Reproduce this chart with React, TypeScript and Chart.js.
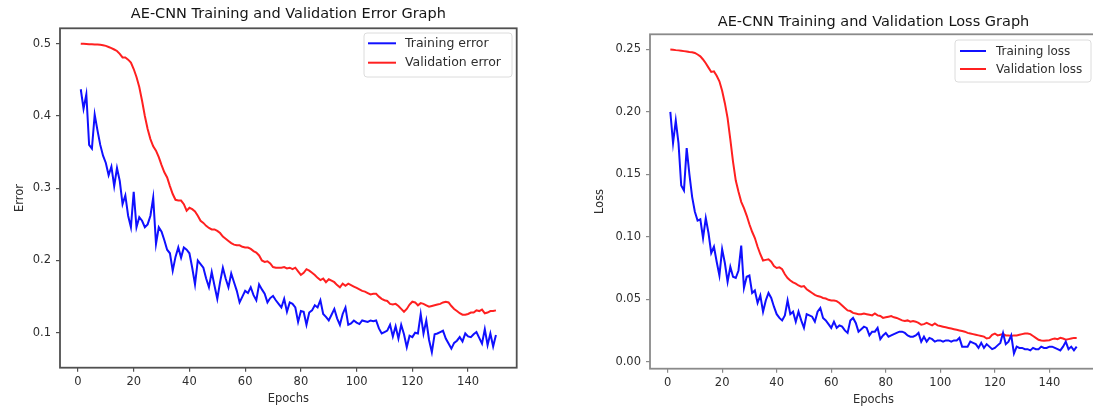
import React, { useEffect, useRef } from "react";
import { Chart, registerables } from "chart.js";

Chart.register(...registerables);

// ---------------- data ----------------
const trainError = [
  0.437, 0.41, 0.43, 0.36, 0.355, 0.402, 0.38, 0.36, 0.345, 0.335,
  0.318, 0.33, 0.303, 0.328, 0.31, 0.278, 0.29, 0.262, 0.246, 0.295,
  0.246, 0.26, 0.255, 0.246, 0.25, 0.262, 0.287, 0.223, 0.246, 0.24,
  0.228, 0.215, 0.21, 0.186, 0.205, 0.218, 0.204, 0.218, 0.215, 0.21,
  0.19, 0.167, 0.2, 0.195, 0.19, 0.175, 0.163, 0.184, 0.165, 0.147,
  0.17, 0.19, 0.175, 0.163, 0.182, 0.17, 0.158, 0.142, 0.15, 0.158,
  0.155, 0.163, 0.152, 0.145, 0.167, 0.16, 0.154, 0.142, 0.148, 0.151,
  0.145, 0.14, 0.135, 0.147, 0.129, 0.142, 0.14, 0.135, 0.115, 0.13,
  0.129, 0.111, 0.128, 0.131, 0.138, 0.135, 0.145, 0.126, 0.122, 0.117,
  0.125, 0.133, 0.12, 0.111, 0.126, 0.135, 0.111, 0.113, 0.117, 0.114,
  0.112, 0.117, 0.116, 0.115, 0.117, 0.116, 0.117, 0.106, 0.099, 0.101,
  0.103, 0.111, 0.095, 0.109, 0.092, 0.111, 0.098, 0.08, 0.096, 0.094,
  0.1, 0.099, 0.126, 0.099, 0.117, 0.09, 0.073, 0.098, 0.099, 0.101,
  0.103, 0.092, 0.085, 0.078, 0.086, 0.089, 0.094, 0.088, 0.099, 0.095,
  0.094, 0.098, 0.101, 0.093, 0.085, 0.105, 0.083, 0.099, 0.081, 0.097,
];

const valError = [
  0.5, 0.4998, 0.4996, 0.4994, 0.4992, 0.499, 0.4988, 0.4985, 0.498, 0.497,
  0.4955, 0.494, 0.492, 0.49, 0.486, 0.481, 0.481, 0.478, 0.474, 0.465,
  0.454, 0.44, 0.421, 0.4, 0.382, 0.368, 0.358, 0.352, 0.343, 0.332,
  0.322, 0.315, 0.303, 0.292, 0.284, 0.283, 0.283, 0.278, 0.269, 0.273,
  0.271, 0.268, 0.262, 0.255, 0.252, 0.248, 0.245, 0.243, 0.243, 0.241,
  0.238, 0.233, 0.23, 0.227, 0.224, 0.222, 0.221, 0.221, 0.219, 0.218,
  0.218, 0.216, 0.213, 0.211, 0.207, 0.2, 0.198, 0.199, 0.196, 0.191,
  0.19, 0.19, 0.19, 0.191, 0.189, 0.19, 0.188, 0.19, 0.185, 0.18,
  0.183, 0.188, 0.186, 0.183, 0.18, 0.176, 0.173, 0.175, 0.17, 0.174,
  0.172, 0.17, 0.166, 0.163, 0.168, 0.165, 0.168, 0.166, 0.164, 0.162,
  0.16, 0.158, 0.157, 0.155, 0.153, 0.154, 0.154, 0.15, 0.147, 0.145,
  0.144, 0.14, 0.139, 0.14, 0.137, 0.133, 0.129, 0.133, 0.139, 0.143,
  0.142, 0.138, 0.141, 0.14, 0.138, 0.136, 0.137, 0.138, 0.139, 0.14,
  0.142, 0.143, 0.142, 0.137, 0.133, 0.13, 0.127, 0.125, 0.125, 0.126,
  0.128, 0.128, 0.131, 0.13, 0.132, 0.127, 0.128, 0.13, 0.13, 0.131,
];

const trainLoss = [
  0.2, 0.175, 0.193, 0.175, 0.141, 0.137, 0.171, 0.15, 0.132, 0.12,
  0.113, 0.114, 0.099, 0.115, 0.103, 0.087, 0.092, 0.08, 0.069, 0.09,
  0.079, 0.064, 0.076, 0.068, 0.067, 0.073, 0.093, 0.059, 0.068, 0.069,
  0.055, 0.057, 0.047, 0.053, 0.04, 0.049, 0.055, 0.051, 0.044, 0.038,
  0.035, 0.033, 0.037, 0.049, 0.038, 0.04, 0.032, 0.04, 0.033, 0.027,
  0.038, 0.037, 0.036, 0.032, 0.04, 0.043, 0.035, 0.033, 0.03, 0.027,
  0.032, 0.027, 0.029, 0.028, 0.025, 0.023, 0.033, 0.035, 0.031, 0.024,
  0.026, 0.028, 0.027, 0.021, 0.024, 0.024, 0.027, 0.018, 0.021, 0.023,
  0.02, 0.021, 0.022, 0.023, 0.024, 0.024, 0.023, 0.021, 0.02, 0.02,
  0.021, 0.023, 0.016, 0.02, 0.016, 0.019, 0.018, 0.016, 0.017, 0.017,
  0.016, 0.017, 0.017, 0.016, 0.017, 0.017, 0.019, 0.012, 0.012, 0.012,
  0.016, 0.015, 0.014, 0.011, 0.015, 0.011, 0.014, 0.012, 0.01, 0.011,
  0.013, 0.015, 0.023, 0.014, 0.016, 0.021, 0.0065, 0.012, 0.011, 0.011,
  0.01, 0.01, 0.009, 0.011, 0.01, 0.01, 0.012, 0.011, 0.011, 0.012,
  0.012, 0.011, 0.01, 0.009, 0.012, 0.016, 0.01, 0.012, 0.009, 0.012,
];

const valLoss = [
  0.25, 0.2498, 0.2495, 0.2493, 0.249, 0.2487, 0.2484, 0.248, 0.2478, 0.2472,
  0.246, 0.2445, 0.242, 0.239, 0.2355, 0.232, 0.2325, 0.229, 0.2245, 0.217,
  0.207, 0.195, 0.178, 0.16, 0.145, 0.136, 0.128, 0.123, 0.117, 0.11,
  0.104, 0.099, 0.092, 0.086, 0.081, 0.0815, 0.082, 0.08, 0.0765, 0.075,
  0.0755, 0.074, 0.07, 0.067, 0.065, 0.0635, 0.0625, 0.061, 0.06, 0.0605,
  0.058, 0.0565, 0.055, 0.0535, 0.0525, 0.052, 0.051, 0.0505, 0.0495, 0.049,
  0.049, 0.0485, 0.047, 0.045, 0.043, 0.041, 0.0405, 0.039, 0.0385, 0.038,
  0.038, 0.0385, 0.038, 0.0375, 0.037, 0.0385, 0.037, 0.0365, 0.035, 0.0355,
  0.036, 0.0365, 0.0355, 0.035, 0.034, 0.033, 0.0325, 0.033, 0.032, 0.0325,
  0.032, 0.031, 0.0295, 0.03, 0.031, 0.03, 0.029, 0.0305, 0.029, 0.0285,
  0.028, 0.0275, 0.027, 0.0265, 0.026, 0.0255, 0.025, 0.0245, 0.024, 0.023,
  0.0225, 0.022, 0.0215, 0.021, 0.0205, 0.02, 0.0185, 0.019, 0.0215, 0.0225,
  0.021, 0.0215, 0.022, 0.021, 0.021, 0.0205, 0.021, 0.021, 0.0215, 0.022,
  0.0225, 0.0225, 0.022, 0.0205, 0.019, 0.0175, 0.017, 0.0168, 0.017, 0.0172,
  0.018, 0.0185, 0.018, 0.019, 0.0185, 0.0175, 0.018, 0.0185, 0.019, 0.019,
];

const epochTicks = [0, 20, 40, 60, 80, 100, 120, 140];
const epochTickLabels = ["0", "20", "40", "60", "80", "100", "120", "140"];
const errorTicks = [0.1, 0.2, 0.3, 0.4, 0.5];
const errorTickLabels = ["0.1", "0.2", "0.3", "0.4", "0.5"];
const lossTicks = [0, 0.05, 0.1, 0.15, 0.2, 0.25];
const lossTickLabels = ["0.00", "0.05", "0.10", "0.15", "0.20", "0.25"];

const errorSeriesNames = ["Training error", "Validation error"];
const lossSeriesNames = ["Training loss", "Validation loss"];
const errorTitle = "AE-CNN Training and Validation Error Graph";
const lossTitle = "AE-CNN Training and Validation Loss Graph";
const xAxisName = "Epochs";
const errorAxisName = "Error";
const lossAxisName = "Loss";

// ---------------- helpers ----------------
const FONT = "'DejaVu Sans', 'Liberation Sans', sans-serif";
const TEXT = "#2e2e2e";

function bounds(values: number[]) {
  const lo = Math.min(...values);
  const hi = Math.max(...values);
  const m = (hi - lo) * 0.05;
  return { min: lo - m, max: hi + m };
}

const decorPlugin = {
  id: "mplDecor",
  afterDatasetsDraw(chart: any, _args: any, opts: any) {
    const { ctx, chartArea: a } = chart;
    ctx.save();
    // frame (spines)
    ctx.strokeStyle = opts.spineColor;
    ctx.lineWidth = opts.spineWidth;
    ctx.strokeRect(a.left, a.top, a.right - a.left, a.bottom - a.top);
    // title
    ctx.fillStyle = "#151515";
    ctx.font = `${opts.titleSize}px ${FONT}`;
    ctx.textAlign = "center";
    ctx.textBaseline = "middle";
    ctx.fillText(opts.title, (a.left + a.right) / 2, opts.titleY);
    // legend
    const L = opts.legend;
    ctx.beginPath();
    const r = 3;
    ctx.moveTo(L.x + r, L.y);
    ctx.lineTo(L.x + L.w - r, L.y);
    ctx.quadraticCurveTo(L.x + L.w, L.y, L.x + L.w, L.y + r);
    ctx.lineTo(L.x + L.w, L.y + L.h - r);
    ctx.quadraticCurveTo(L.x + L.w, L.y + L.h, L.x + L.w - r, L.y + L.h);
    ctx.lineTo(L.x + r, L.y + L.h);
    ctx.quadraticCurveTo(L.x, L.y + L.h, L.x, L.y + L.h - r);
    ctx.lineTo(L.x, L.y + r);
    ctx.quadraticCurveTo(L.x, L.y, L.x + r, L.y);
    ctx.closePath();
    ctx.fillStyle = "rgba(255,255,255,0.85)";
    ctx.fill();
    ctx.strokeStyle = "#dcdcdc";
    ctx.lineWidth = 1;
    ctx.stroke();
    ctx.font = `${L.fontSize}px ${FONT}`;
    ctx.textAlign = "left";
    ctx.textBaseline = "middle";
    chart.data.datasets.forEach((ds: any, i: number) => {
      const y = L.y + L.row0 + i * L.rowGap;
      ctx.strokeStyle = ds.borderColor;
      ctx.lineWidth = 2;
      ctx.beginPath();
      ctx.moveTo(L.x + L.line0, y);
      ctx.lineTo(L.x + L.line1, y);
      ctx.stroke();
      ctx.fillStyle = TEXT;
      ctx.fillText(ds.label, L.x + L.textX, y + 0.5);
    });
    ctx.restore();
  },
};

type Panel = {
  left: number;
  width: number;
  height: number;
  padRight: number;
  padTop: number;
  yAxisWidth: number;
  xAxisHeight: number;
  yTitlePad: number;
  xTitlePad: number;
  tickSize: number;
  titleSize: number;
  titleY: number;
  spineColor: string;
  legend: any;
};

function makeConfig(
  train: number[],
  val: number[],
  names: string[],
  yTicks: number[],
  yTickLabels: string[],
  title: string,
  yName: string,
  p: Panel
) {
  const epochs = train.map((_, i) => i + 1);
  const xb = bounds(epochs);
  const yb = bounds([...train, ...val]);
  const tickFont = { family: FONT, size: p.tickSize };
  const grid = {
    display: true,
    drawOnChartArea: false,
    drawTicks: true,
    tickLength: 4,
    color: p.spineColor,
    lineWidth: 1.2,
  };
  return {
    type: "line" as const,
    data: {
      datasets: [
        {
          label: names[0],
          data: train.map((v, i) => ({ x: epochs[i], y: v })),
          borderColor: "#1010ff",
          borderWidth: 2,
          pointRadius: 0,
          tension: 0,
          fill: false,
        },
        {
          label: names[1],
          data: val.map((v, i) => ({ x: epochs[i], y: v })),
          borderColor: "#ff2020",
          borderWidth: 2,
          pointRadius: 0,
          tension: 0,
          fill: false,
        },
      ],
    },
    plugins: [decorPlugin],
    options: {
      responsive: false,
      animation: false as const,
      events: [],
      layout: { padding: { left: 0, right: p.padRight, top: p.padTop, bottom: 0 } },
      plugins: {
        legend: { display: false },
        title: { display: false },
        tooltip: { enabled: false },
        mplDecor: {
          spineColor: p.spineColor,
          spineWidth: 1.8,
          title,
          titleY: p.titleY,
          titleSize: p.titleSize,
          legend: p.legend,
        },
      },
      scales: {
        x: {
          type: "linear",
          min: xb.min,
          max: xb.max,
          grid,
          border: { display: false },
          afterBuildTicks: (s: any) => {
            s.ticks = epochTicks.map((v) => ({ value: v }));
          },
          afterFit: (s: any) => {
            s.height = p.xAxisHeight;
          },
          ticks: {
            font: tickFont,
            color: TEXT,
            padding: 3,
            maxRotation: 0,
            autoSkip: false,
            callback: (v: number) => epochTickLabels[epochTicks.indexOf(v)] ?? "",
          },
          title: {
            display: true,
            text: xAxisName,
            color: TEXT,
            font: { family: FONT, size: p.tickSize },
            padding: { top: 0, bottom: p.xTitlePad },
          },
        },
        y: {
          type: "linear",
          min: yb.min,
          max: yb.max,
          grid,
          border: { display: false },
          afterBuildTicks: (s: any) => {
            s.ticks = yTicks.map((v) => ({ value: v }));
          },
          afterFit: (s: any) => {
            s.width = p.yAxisWidth;
          },
          ticks: {
            font: tickFont,
            color: TEXT,
            padding: 5,
            autoSkip: false,
            callback: (v: number) => {
              const i = yTicks.findIndex((t) => Math.abs(t - v) < 1e-9);
              return i >= 0 ? yTickLabels[i] : "";
            },
          },
          title: {
            display: true,
            text: yName,
            color: TEXT,
            font: { family: FONT, size: p.tickSize },
            padding: { top: p.yTitlePad, bottom: 0 },
          },
        },
      },
    },
  };
}

const leftPanel: Panel = {
  left: 0,
  width: 546,
  height: 409,
  padRight: 29.3,
  padTop: 28.3,
  yAxisWidth: 60,
  xAxisHeight: 41.3,
  yTitlePad: 13,
  xTitlePad: 3,
  tickSize: 11.5,
  titleSize: 14.5,
  titleY: 14,
  spineColor: "#505050",
  legend: { x: 364, y: 33, w: 148, h: 44, row0: 10.3, rowGap: 19.4, line0: 4, line1: 32, textX: 41, fontSize: 12.5 },
};

const rightPanel: Panel = {
  left: 546,
  width: 560,
  height: 409,
  padRight: 9,
  padTop: 34.3,
  yAxisWidth: 104,
  xAxisHeight: 40.3,
  yTitlePad: 47,
  xTitlePad: 2,
  tickSize: 11.5,
  titleSize: 14.5,
  titleY: 22,
  spineColor: "#8a8a8a",
  legend: { x: 409, y: 40, w: 136, h: 42, row0: 11, rowGap: 18, line0: 5, line1: 31, textX: 41, fontSize: 12 },
};

function ChartPanel(props: { config: any; panel: Panel }) {
  const ref = useRef<HTMLCanvasElement | null>(null);
  useEffect(() => {
    if (!ref.current) return;
    const chart = new Chart(ref.current, props.config);
    return () => chart.destroy();
  }, []);
  const p = props.panel;
  return (
    <canvas
      ref={ref}
      width={p.width}
      height={p.height}
      style={{
        position: "absolute",
        left: p.left,
        top: 0,
        width: p.width,
        height: p.height,
        filter: "blur(0.45px)",
      }}
    />
  );
}

export default function App() {
  const errCfg = makeConfig(trainError, valError, errorSeriesNames, errorTicks, errorTickLabels, errorTitle, errorAxisName, leftPanel);
  const lossCfg = makeConfig(trainLoss, valLoss, lossSeriesNames, lossTicks, lossTickLabels, lossTitle, lossAxisName, rightPanel);
  return (
    <div
      style={{
        position: "absolute",
        left: 0,
        top: 0,
        width: 1093,
        height: 409,
        overflow: "hidden",
        background: "#fff",
      }}
    >
      <ChartPanel config={errCfg} panel={leftPanel} />
      <ChartPanel config={lossCfg} panel={rightPanel} />
    </div>
  );
}
